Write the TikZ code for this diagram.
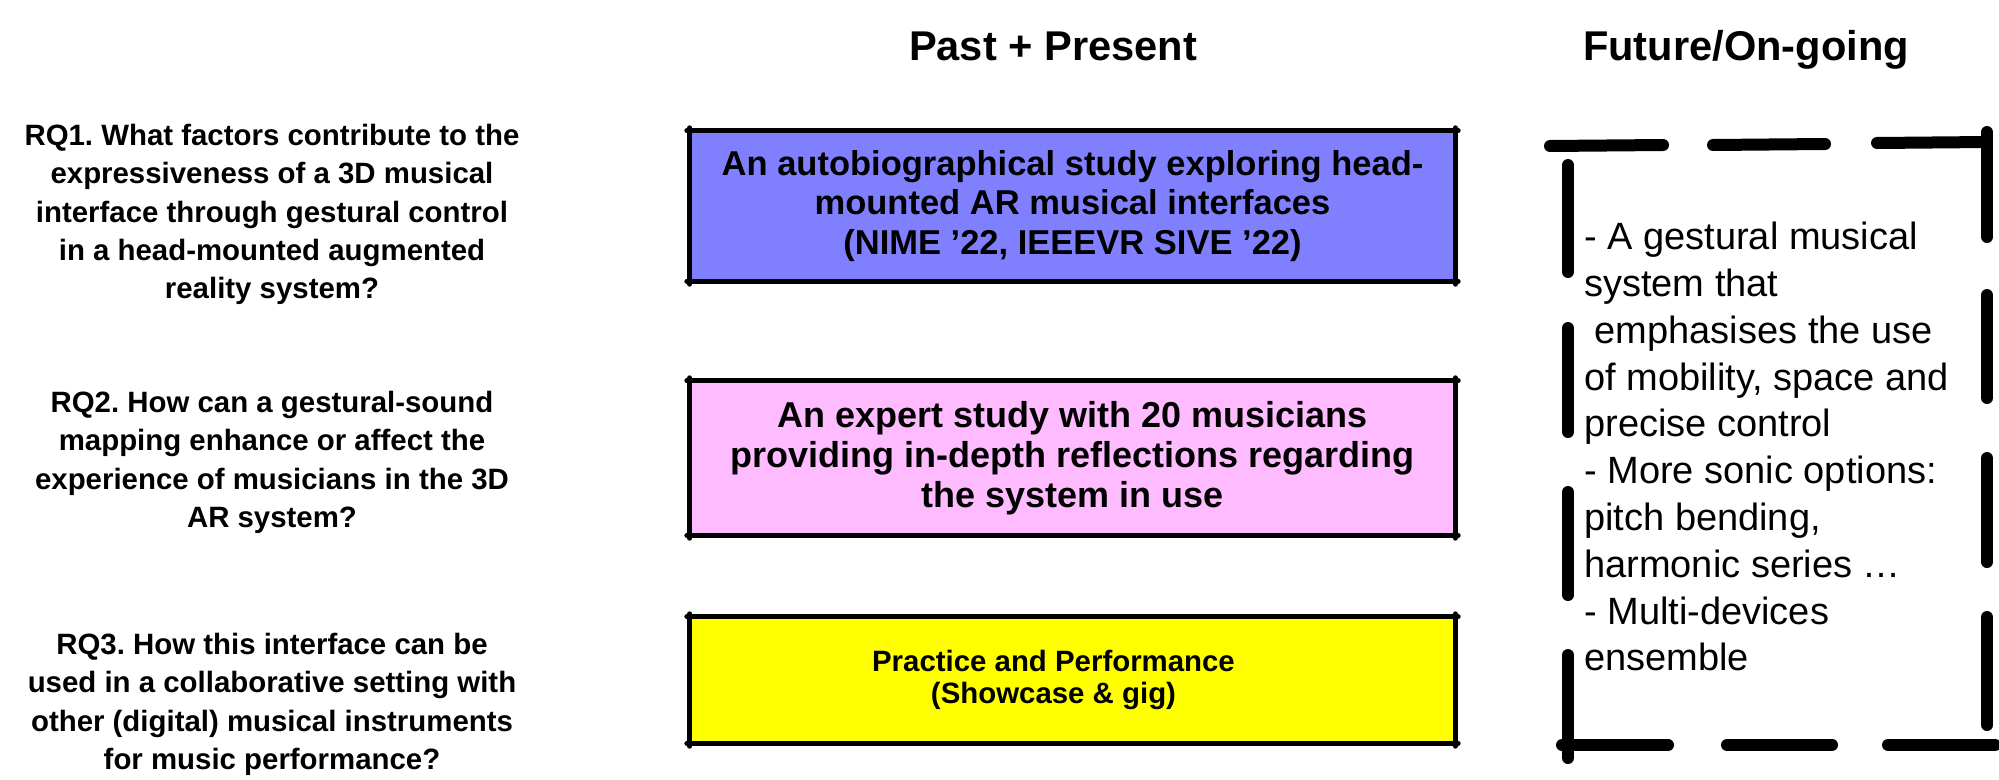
\documentclass[tikz,border=0pt]{standalone}
\usepackage{fontspec}
\setmainfont{Liberation Sans}
\frenchspacing
\definecolor{boxblue}{RGB}{128,128,255}
\definecolor{boxpink}{RGB}{255,187,255}
\definecolor{boxyellow}{RGB}{255,255,0}
\begin{document}
\begin{tikzpicture}[x=1pt,y=-1pt,
  header/.style={font=\bfseries\fontsize{41.6}{50}\selectfont, inner sep=0pt, anchor=base},
  rq/.style={font=\bfseries\fontsize{29.4}{38.3}\selectfont, align=center, inner sep=0pt, anchor=north},
  studybox/.style={minimum width=765pt, inner sep=0pt, align=center},
  edge/.style={line width=5pt, line cap=round},
  dashseg/.style={line width=12pt, line cap=round, line join=round},
  futuretext/.style={font=\fontsize{38}{46.8}\selectfont, align=left, inner sep=0pt, anchor=north west}]
\useasboundingbox (0,0) rectangle (1999,779);

% headers
\node[header] (hpast) at (1053,60) {Past + Present};
\node[header] (hfuture) at (1746,60) {Future/On-going};

% research questions
\node[rq] (rq1) at (272,124) {RQ1. What factors contribute to the\\expressiveness of a 3D musical\\interface through gestural control\\in a head-mounted augmented\\reality system?};
\node[rq] (rq2) at (272,391) {RQ2. How can a gestural-sound\\mapping enhance or affect the\\experience of musicians in the 3D\\AR system?};
\node[rq] (rq3) at (272,633) {RQ3. How this interface can be\\used in a collaborative setting with\\other (digital) musical instruments\\for music performance?};

% study boxes
\node[studybox, fill=boxblue, minimum height=150pt, font=\bfseries\fontsize{34.5}{39.5}\selectfont] (b1) at (1072.5,206) {An autobiographical study exploring head-\\mounted AR musical interfaces\\(NIME ’22, IEEEVR SIVE ’22)};
\node[studybox, fill=boxpink, minimum height=154pt, font=\bfseries\fontsize{36}{40}\selectfont] (b2) at (1072.5,458) {An expert study with 20 musicians\\providing in-depth reflections regarding\\the system in use};
\node[studybox, fill=boxyellow, minimum height=126pt] (b3) at (1072.5,680) {};
\node[font=\bfseries\fontsize{29.4}{32}\selectfont, align=center, inner sep=0pt] (b3text) at ([xshift=-19pt]b3.center) {Practice and Performance\\(Showcase \& gig)};

\foreach \b in {b1,b2,b3}{
  \draw[edge] ([xshift=-3pt]\b.north west) -- ([xshift=3pt]\b.north east);
  \draw[edge] ([xshift=-3pt]\b.south west) -- ([xshift=3pt]\b.south east);
  \draw[edge] ([yshift=3pt]\b.north west) -- ([yshift=-3pt]\b.south west);
  \draw[edge] ([yshift=3pt]\b.north east) -- ([yshift=-3pt]\b.south east);
}

% future / on-going dashed frame
\draw[dashseg] (1550,146) -- (1663,145);
\draw[dashseg] (1713,145) -- (1825,144);
\draw[dashseg] (1877,143) -- (1987,142);
\draw[dashseg] (1987,132) -- (1987,237);
\draw[dashseg] (1987,295) -- (1987,398);
\draw[dashseg] (1987,458) -- (1987,562);
\draw[dashseg] (1987,617) -- (1987,725);
\draw[dashseg] (1568,165) -- (1568,272);
\draw[dashseg] (1568,328) -- (1568,432);
\draw[dashseg] (1568,492) -- (1568,595);
\draw[dashseg] (1568,655) -- (1568,758);
\draw[dashseg] (1562,745) -- (1668,745);
\draw[dashseg] (1727,745) -- (1832,745);
\draw[dashseg] (1888,745) -- (1995,745);

\node[futuretext] (future) at (1584,222) {- A gestural musical\\system that\\\ emphasises the use\\of mobility, space and\\precise control\\- More sonic options:\\pitch bending,\\harmonic series …\\- Multi-devices\\ensemble};
\end{tikzpicture}
\end{document}
